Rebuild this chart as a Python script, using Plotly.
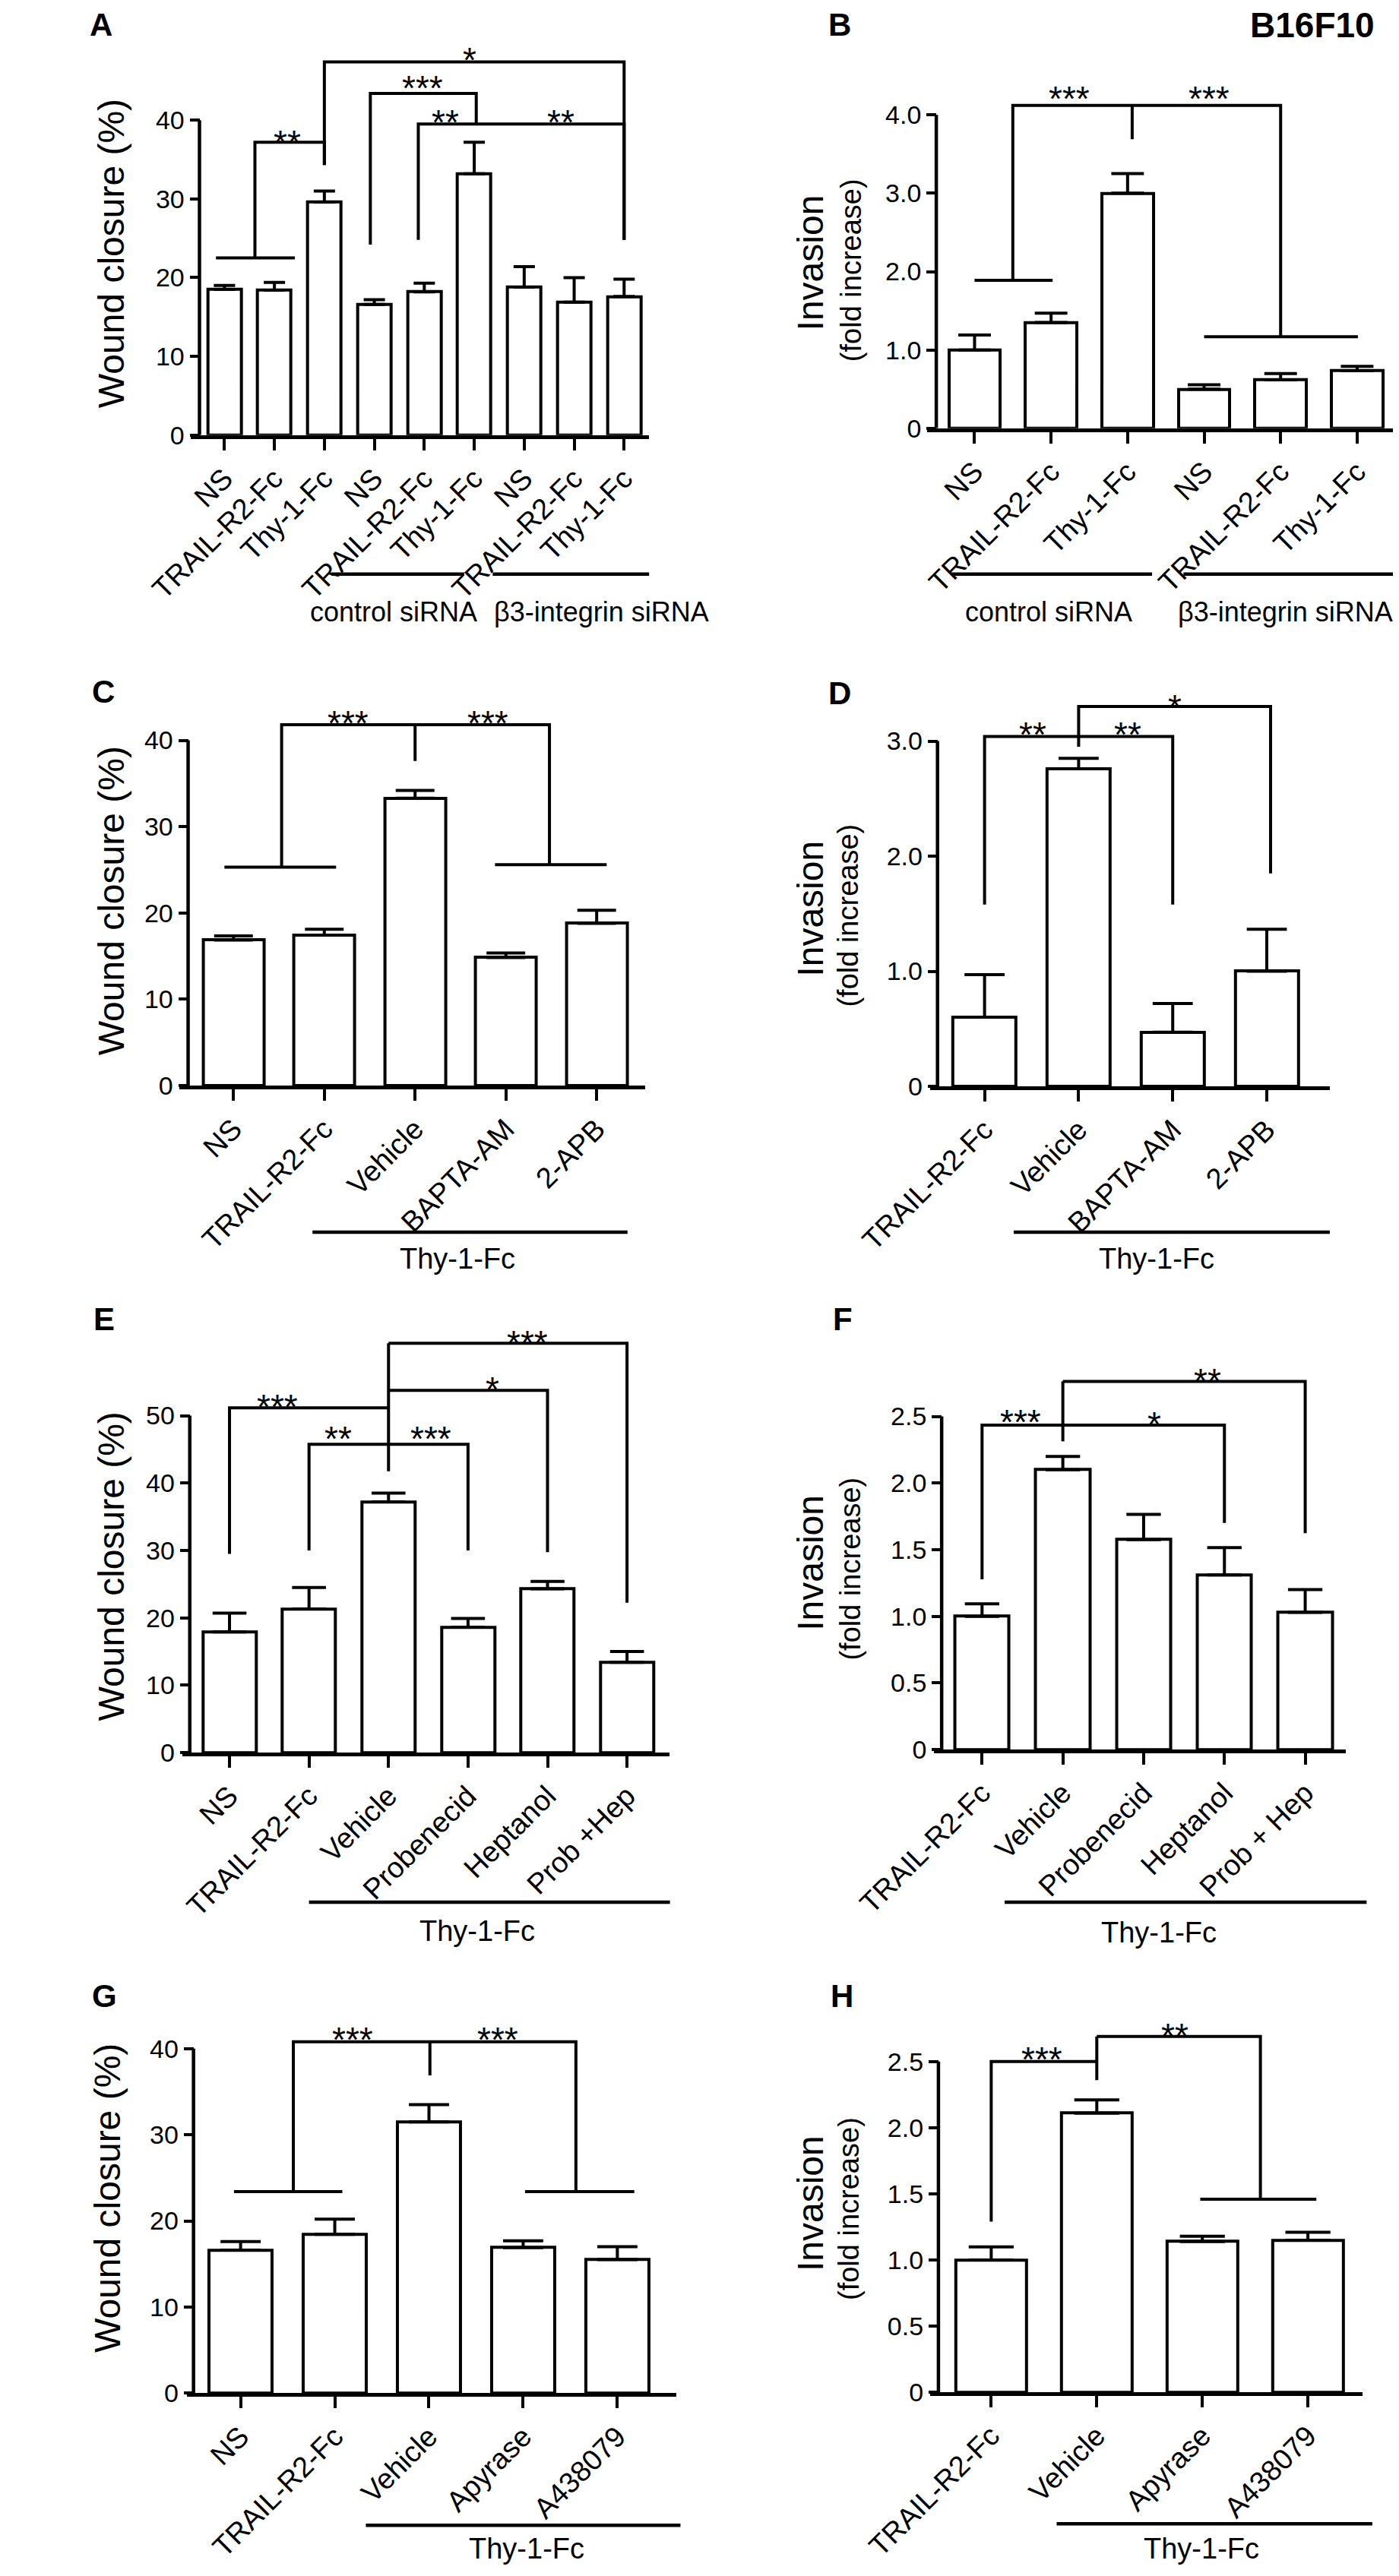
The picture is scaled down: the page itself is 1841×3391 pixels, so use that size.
import plotly.graph_objects as go

W, H = 1841, 3391
FONT = "Arial, Liberation Sans, Helvetica, sans-serif"

# ---------------- data ----------------
A_LABELS = ["NS", "TRAIL-R2-Fc", "Thy-1-Fc"] * 3
A_MEAN = [18.5, 18.4, 29.6, 16.6, 18.2, 33.2, 18.8, 16.9, 17.6]
A_ERR = [0.5, 1.0, 1.4, 0.6, 1.1, 4.0, 2.6, 3.1, 2.2]

B_LABELS = ["NS", "TRAIL-R2-Fc", "Thy-1-Fc"] * 2
B_MEAN = [1.0, 1.35, 3.0, 0.50, 0.62, 0.735]
B_ERR = [0.19, 0.12, 0.25, 0.055, 0.08, 0.055]

C_LABELS = ["NS", "TRAIL-R2-Fc", "Vehicle", "BAPTA-AM", "2-APB"]
C_MEAN = [16.85, 17.42, 33.3, 14.84, 18.8]
C_ERR = [0.5, 0.7, 0.9, 0.53, 1.5]

D_LABELS = ["TRAIL-R2-Fc", "Vehicle", "BAPTA-AM", "2-APB"]
D_MEAN = [0.6, 2.76, 0.47, 1.0]
D_ERR = [0.37, 0.09, 0.25, 0.365]

E_LABELS = ["NS", "TRAIL-R2-Fc", "Vehicle", "Probenecid", "Heptanol", "Prob +Hep"]
E_MEAN = [17.9, 21.3, 37.2, 18.6, 24.3, 13.4]
E_ERR = [2.8, 3.2, 1.3, 1.3, 1.1, 1.6]

F_LABELS = ["TRAIL-R2-Fc", "Vehicle", "Probenecid", "Heptanol", "Prob + Hep"]
F_MEAN = [1.0, 2.1, 1.575, 1.31, 1.03]
F_ERR = [0.094, 0.1, 0.19, 0.205, 0.17]

G_LABELS = ["NS", "TRAIL-R2-Fc", "Vehicle", "Apyrase", "A438079"]
G_MEAN = [16.6, 18.45, 31.5, 16.9, 15.5]
G_ERR = [1.0, 1.75, 2.0, 0.8, 1.5]

H_LABELS = ["TRAIL-R2-Fc", "Vehicle", "Apyrase", "A438079"]
H_MEAN = [1.0, 2.11, 1.14, 1.15]
H_ERR = [0.1, 0.1, 0.04, 0.06]

WOUND_TICKS_40 = [0, 10, 20, 30, 40]
WOUND_TICKS_50 = [0, 10, 20, 30, 40, 50]
INV_TICKS_4 = [0, 1, 2, 3, 4]
INV_TICKS_3 = [0, 1, 2, 3]
INV_TICKS_25 = [0, 0.5, 1.0, 1.5, 2.0, 2.5]

# significance brackets: (x_left, x_right, y_top, y_left_end, y_right_end)
A_BRACKETS = [(0.61, 2.0, 37.2, 22.5, 34.3), (2.0, 8.0, 47.4, 34.3, 24.8),
              (2.92, 5.04, 43.4, 24.2, 39.5), (3.88, 8.0, 39.5, 24.8, 24.8)]
A_GROUPS = [(-0.17, 1.41, 22.5)]
A_STEMS = []
A_STARS = [(1.26, 38.4, "**"), (4.9, 48.9, "*"), (3.96, 45.3, "***"),
           (4.42, 41.0, "**"), (6.74, 41.0, "**")]

B_BRACKETS = [(0.5, 4.0, 4.12, 1.89, 1.17)]
B_GROUPS = [(0.0, 1.02, 1.89), (3.0, 5.01, 1.17)]
B_STEMS = [(2.06, 4.12, 3.69)]
B_STARS = [(1.24, 4.33, "***"), (3.06, 4.33, "***")]

C_BRACKETS = [(0.53, 3.48, 41.8, 25.3, 25.6)]
C_GROUPS = [(-0.1, 1.13, 25.3), (2.88, 4.11, 25.6)]
C_STEMS = [(2.0, 41.8, 37.6)]
C_STARS = [(1.26, 43.15, "***"), (2.8, 43.15, "***")]

D_BRACKETS = [(0.0, 2.0, 3.04, 1.58, 1.58), (1.0, 3.04, 3.30, 2.95, 1.85)]
D_GROUPS = []
D_STEMS = []
D_STARS = [(0.51, 3.14, "**"), (1.52, 3.14, "**"), (2.02, 3.38, "*")]

E_BRACKETS = [(0.0, 2.0, 51.15, 29.5, 51.15), (2.0, 4.0, 53.75, 53.75, 29.75),
              (2.0, 5.0, 60.75, 60.75, 22.25), (1.0, 3.0, 45.75, 30.0, 30.0)]
E_GROUPS = []
E_STEMS = [(2.0, 60.75, 41.75)]
E_STARS = [(0.6, 52.75, "***"), (1.37, 48.0, "**"), (2.53, 48.0, "***"),
           (3.31, 55.4, "*"), (3.75, 62.25, "***")]

F_BRACKETS = [(0.0, 1.0, 2.434, 1.278, 2.434), (1.0, 3.0, 2.434, 2.434, 1.70),
              (1.0, 4.0, 2.763, 2.763, 1.624)]
F_GROUPS = []
F_STEMS = [(1.0, 2.763, 2.313)]
F_STARS = [(0.48, 2.53, "***"), (2.13, 2.515, "*"), (2.79, 2.84, "**")]

G_BRACKETS = [(0.56, 3.56, 40.8, 23.4, 23.4)]
G_GROUPS = [(-0.07, 1.08, 23.4), (3.02, 4.18, 23.4)]
G_STEMS = [(2.01, 40.8, 36.9)]
G_STARS = [(1.19, 42.2, "***"), (2.73, 42.2, "***")]

H_BRACKETS = [(0.0, 1.0, 2.50, 1.29, 2.50), (1.0, 2.55, 2.69, 2.69, 1.46)]
H_GROUPS = [(1.98, 3.08, 1.46)]
H_STEMS = [(1.0, 2.69, 2.36)]
H_STARS = [(0.48, 2.59, "***"), (1.74, 2.77, "**")]

# labels under the x axis: (x_left, x_right, text_center_x, text)
A_UNDER = [(2.14, 4.80, 3.39, "control siRNA"), (5.37, 8.5, 7.54, "\u03b23-integrin siRNA")]
B_UNDER = [(-0.3, 2.32, 0.97, "control siRNA"), (2.73, 5.59, 4.06, "\u03b23-integrin siRNA")]
C_UNDER = [(0.87, 4.34, 2.47, "Thy-1-Fc")]
D_UNDER = [(0.31, 3.67, 1.83, "Thy-1-Fc")]
E_UNDER = [(1.0, 5.54, 3.12, "Thy-1-Fc")]
F_UNDER = [(0.28, 4.76, 2.19, "Thy-1-Fc")]
G_UNDER = [(1.33, 4.67, 3.04, "Thy-1-Fc")]
H_UNDER = [(0.62, 3.61, 1.99, "Thy-1-Fc")]


def fmt1(v):
    return "0" if v == 0 else f"{v:.1f}"


# ---------------- panel geometry (pixels in the 1841x3391 page) ----------------
PANELS = [
    dict(letter="A", lx=3, ly=25, L=146, R=786, xlo=-0.68, xhi=8.5, y0=568, ytp=151, top=40,
         labels=A_LABELS, mean=A_MEAN, err=A_ERR, yt=WOUND_TICKS_40, ytt=[str(v) for v in WOUND_TICKS_40],
         br=A_BRACKETS, gr=A_GROUPS, st=A_STEMS, stars=A_STARS, under=A_UNDER, uline=752, utext=802,
         ufont=36, title="wound", tx=35, ty=328),
    dict(letter="B", lx=1034, ly=25, L=1174, R=1827.5, xlo=-0.62, xhi=5.5, y0=559, ytp=144, top=40,
         labels=B_LABELS, mean=B_MEAN, err=B_ERR, yt=INV_TICKS_4, ytt=[fmt1(v) for v in INV_TICKS_4],
         br=B_BRACKETS, gr=B_GROUPS, st=B_STEMS, stars=B_STARS, under=B_UNDER, uline=752, utext=802,
         ufont=36, title="inv", tx=1011, ty=340, tx2=1068, ty2=350),
    dict(letter="C", lx=6, ly=908, L=130, R=780, xlo=-0.6, xhi=4.53, y0=1429, ytp=972, top=880,
         labels=C_LABELS, mean=C_MEAN, err=C_ERR, yt=WOUND_TICKS_40, ytt=[str(v) for v in WOUND_TICKS_40],
         br=C_BRACKETS, gr=C_GROUPS, st=C_STEMS, stars=C_STARS, under=C_UNDER, uline=1623, utext=1658,
         ufont=38, title="wound", tx=35, ty=1185),
    dict(letter="D", lx=1034, ly=910, L=1178, R=1736, xlo=-0.58, xhi=3.67, y0=1430, ytp=973, top=880,
         labels=D_LABELS, mean=D_MEAN, err=D_ERR, yt=INV_TICKS_3, ytt=[fmt1(v) for v in INV_TICKS_3],
         br=D_BRACKETS, gr=D_GROUPS, st=D_STEMS, stars=D_STARS, under=D_UNDER, uline=1623, utext=1658,
         ufont=38, title="inv", tx=1011, ty=1195, tx2=1064, ty2=1204),
    dict(letter="E", lx=9, ly=1738, L=135, R=814, xlo=-0.59, xhi=5.53, y0=2312, ytp=1866, top=1720,
         labels=E_LABELS, mean=E_MEAN, err=E_ERR, yt=WOUND_TICKS_50, ytt=[str(v) for v in WOUND_TICKS_50],
         br=E_BRACKETS, gr=E_GROUPS, st=E_STEMS, stars=E_STARS, under=E_UNDER, uline=2510, utext=2548,
         ufont=38, title="wound", tx=35, ty=2066),
    dict(letter="F", lx=1040, ly=1738, L=1183, R=1758, xlo=-0.6, xhi=4.5, y0=2308, ytp=1867, top=1720,
         labels=F_LABELS, mean=F_MEAN, err=F_ERR, yt=INV_TICKS_25, ytt=[fmt1(v) for v in INV_TICKS_25],
         br=F_BRACKETS, gr=F_GROUPS, st=F_STEMS, stars=F_STARS, under=F_UNDER, uline=2510, utext=2550,
         ufont=38, title="inv", tx=1011, ty=2061, tx2=1067, ty2=2069),
    dict(letter="G", lx=6, ly=2634, L=141, R=824.5, xlo=-0.57, xhi=4.63, y0=3160, ytp=2704, top=2620,
         labels=G_LABELS, mean=G_MEAN, err=G_ERR, yt=WOUND_TICKS_40, ytt=[str(v) for v in WOUND_TICKS_40],
         br=G_BRACKETS, gr=G_GROUPS, st=G_STEMS, stars=G_STARS, under=G_UNDER, uline=3335, utext=3366,
         ufont=38, title="wound", tx=31, ty=2902),
    dict(letter="H", lx=1037, ly=2634, L=1178, R=1782, xlo=-0.58, xhi=3.52, y0=3159, ytp=2721, top=2620,
         labels=H_LABELS, mean=H_MEAN, err=H_ERR, yt=INV_TICKS_25, ytt=[fmt1(v) for v in INV_TICKS_25],
         br=H_BRACKETS, gr=H_GROUPS, st=H_STEMS, stars=H_STARS, under=H_UNDER, uline=3333, utext=3366,
         ufont=38, title="inv", tx=1011, ty=2909, tx2=1064, ty2=2916),
]

LW = 4
BAR_W = 0.67


def px2x(px):
    return px / W


def py2y(py):
    return 1 - py / H


fig = go.Figure()
shapes, annos = [], []

for n, P in enumerate(PANELS, start=1):
    xr = "x" if n == 1 else f"x{n}"
    yr = "y" if n == 1 else f"y{n}"
    xkey = "xaxis" if n == 1 else f"xaxis{n}"
    ykey = "yaxis" if n == 1 else f"yaxis{n}"
    unit = (P["R"] - P["L"]) / (P["xhi"] - P["xlo"])   # px per category

    def idx2px(i, P=P, unit=unit):
        return P["L"] + (i - P["xlo"]) * unit

    top_val = P["yt"][-1]
    ymax = top_val * (P["y0"] - P["top"]) / (P["y0"] - P["ytp"])
    cats = list(range(len(P["mean"])))

    fig.add_trace(go.Bar(
        x=cats, y=P["mean"], width=BAR_W, xaxis=xr, yaxis=yr,
        marker=dict(color="white", line=dict(color="black", width=LW)),
        error_y=dict(type="data", array=P["err"], arrayminus=[0] * len(cats), symmetric=False,
                     color="black", thickness=LW, width=BAR_W * unit * 0.3),
        hoverinfo="skip",
    ))

    fig.layout[xkey] = dict(
        domain=[px2x(P["L"]), px2x(P["R"])], range=[P["xlo"], P["xhi"]], anchor=yr,
        showline=True, linecolor="black", linewidth=4.5, showgrid=False, zeroline=False,
        ticks="outside", ticklen=15, tickwidth=4, tickcolor="black",
        tickvals=cats, ticktext=P["labels"], tickangle=-45,
        tickfont=dict(family=FONT, size=38, color="black"), fixedrange=True,
    )
    fig.layout[ykey] = dict(
        domain=[py2y(P["y0"]), py2y(P["top"])], range=[0, ymax], anchor="free",
        position=px2x(idx2px(-0.5)), showline=False, showgrid=False, zeroline=False,
        ticks="outside", ticklen=13, tickwidth=4, tickcolor="black",
        tickvals=P["yt"], ticktext=P["ytt"],
        tickfont=dict(family=FONT, size=34, color="black"), fixedrange=True,
    )

    line = dict(color="black", width=LW)
    # y axis line, only up to the last tick
    shapes.append(dict(type="line", xref=xr, yref=yr, x0=-0.5, x1=-0.5, y0=0, y1=top_val,
                       line=dict(color="black", width=4.5)))
    for x1, x2, yt, yl, yrr in P["br"]:
        shapes.append(dict(type="path", xref=xr, yref=yr, line=line, fillcolor="rgba(0,0,0,0)",
                           path=f"M {x1},{yl} L {x1},{yt} L {x2},{yt} L {x2},{yrr}"))
    for xs, ya, yb in P["st"]:
        shapes.append(dict(type="line", xref=xr, yref=yr, x0=xs, x1=xs, y0=ya, y1=yb, line=line))
    for x1, x2, yg in P["gr"]:
        shapes.append(dict(type="line", xref=xr, yref=yr, x0=x1, x1=x2, y0=yg, y1=yg, line=line))
    for xs, ys, txt in P["stars"]:
        annos.append(dict(xref=xr, yref=yr, x=xs, y=ys, text=txt, showarrow=False,
                          xanchor="center", yanchor="middle", yshift=-13,
                          font=dict(family=FONT, size=46, color="black")))
    for x1, x2, xc, txt in P["under"]:
        shapes.append(dict(type="line", xref="paper", yref="paper",
                           x0=px2x(idx2px(x1)), x1=px2x(idx2px(x2)),
                           y0=py2y(P["uline"]), y1=py2y(P["uline"]), line=dict(color="black", width=4.5)))
        annos.append(dict(xref="paper", yref="paper", x=px2x(idx2px(xc)), y=py2y(P["utext"]),
                          text=txt, showarrow=False, xanchor="center", yanchor="middle",
                          font=dict(family=FONT, size=P["ufont"], color="black")))

    # panel letter
    annos.append(dict(xref="paper", yref="paper", x=px2x(P["lx"]), y=py2y(P["ly"]),
                      text=f"<b>{P['letter']}</b>", showarrow=False, xanchor="left", yanchor="middle",
                      font=dict(family=FONT, size=42, color="black")))
    # y titles
    if P["title"] == "wound":
        annos.append(dict(xref="paper", yref="paper", x=px2x(P["tx"]), y=py2y(P["ty"]),
                          text="Wound closure (%)", textangle=-90, showarrow=False,
                          xanchor="center", yanchor="middle",
                          font=dict(family=FONT, size=48, color="black")))
    else:
        annos.append(dict(xref="paper", yref="paper", x=px2x(P["tx"]), y=py2y(P["ty"]),
                          text="Invasion", textangle=-90, showarrow=False,
                          xanchor="center", yanchor="middle",
                          font=dict(family=FONT, size=48, color="black")))
        annos.append(dict(xref="paper", yref="paper", x=px2x(P["tx2"]), y=py2y(P["ty2"]),
                          text="(fold increase)", textangle=-90, showarrow=False,
                          xanchor="center", yanchor="middle",
                          font=dict(family=FONT, size=38, color="black")))

annos.append(dict(xref="paper", yref="paper", x=px2x(1801), y=py2y(25), text="<b>B16F10</b>",
                  showarrow=False, xanchor="right", yanchor="middle",
                  font=dict(family=FONT, size=46, color="black")))

fig.update_layout(
    width=W, height=H, margin=dict(l=0, r=0, t=0, b=0),
    paper_bgcolor="white", plot_bgcolor="rgba(0,0,0,0)",
    showlegend=False, bargap=0, shapes=shapes, annotations=annos,
    font=dict(family=FONT, color="black"),
)

fig.write_html("out.html")
